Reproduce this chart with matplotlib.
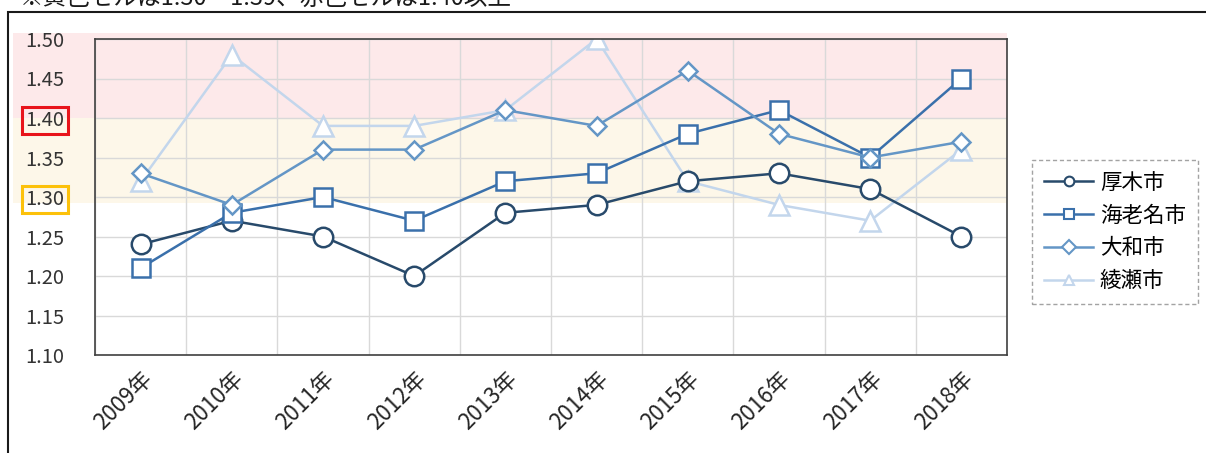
import numpy as np
import matplotlib
matplotlib.use('Agg')
import matplotlib.pyplot as plt
import matplotlib.transforms as mtransforms
from matplotlib.patches import Rectangle

plt.rcParams['font.family'] = ['Noto Sans CJK JP', 'DejaVu Sans']

years = ['2009年', '2010年', '2011年', '2012年', '2013年',
         '2014年', '2015年', '2016年', '2017年', '2018年']
atsugi = [1.24, 1.27, 1.25, 1.20, 1.28, 1.29, 1.32, 1.33, 1.31, 1.25]
ebina = [1.21, 1.28, 1.30, 1.27, 1.32, 1.33, 1.38, 1.41, 1.35, 1.45]
yamato = [1.33, 1.29, 1.36, 1.36, 1.41, 1.39, 1.46, 1.38, 1.35, 1.37]
ayase = [1.32, 1.48, 1.39, 1.39, 1.41, 1.50, 1.32, 1.29, 1.27, 1.36]
names = ['厚木市', '海老名市', '大和市', '綾瀬市']
yticks = [1.10, 1.15, 1.20, 1.25, 1.30, 1.35, 1.40, 1.45, 1.50]

fig = plt.figure(figsize=(12.06, 4.53), dpi=100)
ax = fig.add_axes([95 / 1206, 98 / 453, 912 / 1206, 316 / 453])

x = np.arange(len(years))

# coloured bands (extend left under the tick labels)
trans = mtransforms.blended_transform_factory(ax.transAxes, ax.transData)
ax.add_patch(Rectangle((-0.09, 1.40), 1.09, 0.108, transform=trans,
                       facecolor='#fde9ea', edgecolor='none', clip_on=False, zorder=0))
ax.add_patch(Rectangle((-0.09, 1.293), 1.09, 0.107, transform=trans,
                       facecolor='#fdf7e9', edgecolor='none', clip_on=False, zorder=0))

styles = [
    (atsugi, '#284a6b', 'o', 14, 3),
    (ebina, '#3a70ab', 's', 13, 4),
    (yamato, '#6496c6', 'D', 9, 5),
    (ayase, '#c3d6ec', '^', 14, 2),
]
handles = []
for (vals, col, mk, ms, z), name in zip(styles, names):
    ax.plot(x, vals, color=col, lw=1.8, marker=mk, ms=ms, mfc='white',
            mec=col, mew=1.8, zorder=z)
    h, = ax.plot([], [], color=col, lw=1.8, marker=mk, ms=7, mfc='white',
                 mec=col, mew=1.5, label=name)
    handles.append(h)

ax.set_xlim(-0.5, len(years) - 0.5)
ax.set_ylim(1.10, 1.50)
ax.set_yticks(yticks)
ax.set_yticklabels([f'{v:.2f}' for v in yticks])
ax.set_xticks(x)
ax.set_xticklabels(years, rotation=45, ha='right', va='top',
                   rotation_mode='anchor', fontsize=16, color='#262626')
shift = mtransforms.ScaledTranslation(-8 / 100, 0, fig.dpi_scale_trans)
for lab in ax.get_xticklabels():
    lab.set_transform(lab.get_transform() + shift)
ax.set_xticks(np.arange(-0.5, len(years), 1), minor=True)
ax.tick_params(axis='both', which='both', length=0)
ax.tick_params(axis='y', labelsize=14.5, pad=22, labelcolor='#333333')
ax.tick_params(axis='x', pad=9)

ax.grid(True, which='minor', axis='x', color='#d9d9d9', lw=1)
ax.grid(True, which='major', axis='y', color='#d9d9d9', lw=1)
ax.set_axisbelow(True)
ax.patch.set_alpha(0)
for s in ax.spines.values():
    s.set_color('#404040')
    s.set_linewidth(1.2)

for lab in ax.get_yticklabels():
    if lab.get_text() == '1.40':
        lab.set_bbox(dict(facecolor='none', edgecolor='#e8141b', lw=2.2, pad=2.5))
    if lab.get_text() == '1.30':
        lab.set_bbox(dict(facecolor='none', edgecolor='#fcc10a', lw=2.2, pad=2.5))

leg = fig.legend(handles=handles, loc='upper left',
                 bbox_to_anchor=(1032 / 1206, 1 - 160 / 453),
                 fontsize=15.5, frameon=True, fancybox=False, borderaxespad=0,
                 handlelength=2.3, labelspacing=0.5, borderpad=0.55,
                 handletextpad=0.3)
leg.get_frame().set_edgecolor('#8c8c8c')
leg.get_frame().set_linestyle((0, (3, 2)))
leg.get_frame().set_linewidth(1)

# outer frame of the pasted chart
fig.patches.append(Rectangle((7.5 / 1206, -0.1), 1.2, 1 - 11.5 / 453 + 0.1,
                             transform=fig.transFigure, facecolor='none',
                             edgecolor='#1a1a1a', lw=1.5))

fig.text(20 / 1206, 1 - 6 / 453, '※黄色セルは1.30～1.39、赤色セルは1.40以上',
         fontsize=17, va='baseline', ha='left', color='#1a1a1a')

fig.savefig('out.png', dpi=100)
